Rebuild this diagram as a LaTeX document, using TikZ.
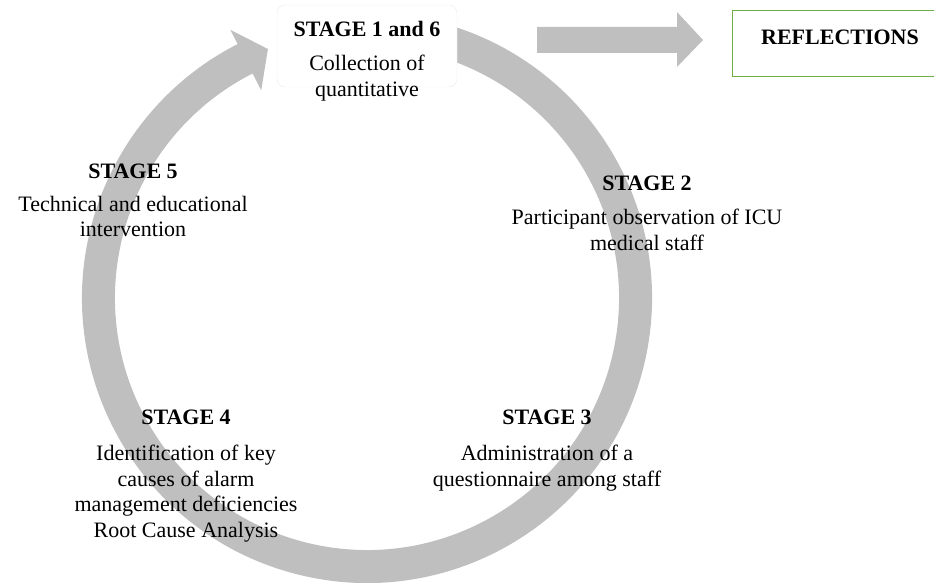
\documentclass[tikz,border=0pt]{standalone}
\usepackage{fontspec}
\setmainfont{Liberation Serif}
\usetikzlibrary{calc}
\definecolor{ringgray}{RGB}{191,191,191}
\definecolor{boxgreen}{RGB}{112,173,71}
\definecolor{faintline}{RGB}{236,236,236}
\tikzset{
  stagetext/.style={align=center, font=\fontsize{22}{25.5}\selectfont, inner sep=0pt},
  stagehead/.style={font=\fontsize{22}{25.5}\selectfont\bfseries, inner sep=0pt},
}
\begin{document}
\begin{tikzpicture}[x=1pt,y=1pt]
  \useasboundingbox (0,0) rectangle (934,-583);
  \coordinate (c) at (367,-298);

  % circular process arrow, running clockwise from the top
  \fill[ringgray]
    ($(c)+(75:285)$) arc[start angle=75, end angle=-243, radius=285]
    -- ($(c)+(-243:301)$) -- ($(c)+(-248.3:268)$) -- ($(c)+(-243:233)$)
    -- ($(c)+(-243:252)$) arc[start angle=-243, end angle=75, radius=252]
    -- cycle;

  % stage 1 and 6 box at the top of the cycle
  \node[draw=faintline, fill=white, rounded corners=8pt, minimum width=180pt,
        minimum height=82pt, inner sep=0pt] (top) at (367,-46) {};
  \node[stagehead] (s1h) at (367,-29) {STAGE 1 and 6};
  \node[stagetext, anchor=north] (s1t) at (367,-55) {Collection of\\quantitative};

  % block arrow to the reflections box
  \fill[ringgray] (537,-27) -- (677,-27) -- (677,-12) -- (703,-40)
    -- (677,-67) -- (677,-53) -- (537,-53) -- cycle;

  % reflections box (runs off the right edge)
  \node[draw=boxgreen, line width=1.3pt, minimum width=240pt, minimum height=66pt,
        anchor=north west, inner sep=0pt] (refl) at (732,-10) {};
  \node[stagehead] (reflt) at (840,-37) {REFLECTIONS};

  % stage labels
  \node[stagehead] (s5h) at (133,-171) {STAGE 5};
  \node[stagetext, anchor=north] (s5t) at (133,-196) {Technical and educational\\intervention};

  \node[stagehead] (s2h) at (647,-183) {STAGE 2};
  \node[stagetext, anchor=north] (s2t) at (647,-209) {Participant observation of ICU\\medical staff};

  \node[stagehead] (s4h) at (186,-417) {STAGE 4};
  \node[stagetext, anchor=north] (s4t) at (186,-445) {Identification of key\\causes of alarm\\management deficiencies\\Root Cause Analysis};

  \node[stagehead] (s3h) at (547,-417) {STAGE 3};
  \node[stagetext, anchor=north] (s3t) at (547,-445) {Administration of a\\questionnaire among staff};
\end{tikzpicture}
\end{document}
